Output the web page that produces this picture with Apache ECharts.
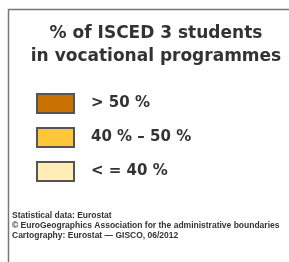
<!DOCTYPE html>
<html><head><meta charset="utf-8">
<script src="https://cdn.jsdelivr.net/npm/echarts@6/dist/echarts.min.js"></script>
<style>html,body{margin:0;padding:0;background:#fff}#c{width:289px;height:262px}</style>
</head><body><div id="c"></div>
<script>
const titleLines = ['% of ISCED 3 students', 'in vocational programmes'];
const classes = ['> 50 %', '40 % – 50 %', '< = 40 %'];
const classColors = ['#C87000', '#FFC63A', '#FFEDB5'];
const footerLines = [
  'Statistical data: Eurostat',
  '© EuroGeographics Association for the administrative boundaries',
  'Cartography: Eurostat — GISCO, 06/2012'
];
const chart = echarts.init(document.getElementById('c'), null, {renderer: 'canvas'});
chart.setOption({
  animation: false,
  title: {
    text: titleLines.join('\n'),
    left: 151, top: 17, textAlign: 'center',
    textStyle: {fontFamily: 'DejaVu Sans', fontSize: 17, fontWeight: 'bold', color: '#333', lineHeight: 23}
  },
  grid: {left: -100, top: -100, width: 1, height: 1, show: false},
  xAxis: {show: false, type: 'category', data: ['x']},
  yAxis: {show: false},
  legend: {
    orient: 'vertical', left: 31, top: 88, icon: 'rect',
    itemWidth: 37, itemHeight: 19, itemGap: 13, padding: 5,
    textStyle: {fontFamily: 'DejaVu Sans', fontSize: 15, fontWeight: 'bold', color: '#333', lineHeight: 19, padding: [0, 0, 0, 12]},
    data: classes
  },
  series: classes.map((n, i) => ({
    name: n, type: 'bar', data: [],
    itemStyle: {color: classColors[i], borderColor: '#555', borderWidth: 1}
  })),
  graphic: [
    {type: 'polyline', shape: {points: [[8.5, 262], [8.5, 9.5], [289, 9.5]]}, style: {stroke: '#777', lineWidth: 1.5, fill: null}},
    {type: 'text', left: 12, top: 211, style: {text: footerLines.join('\n'), font: 'bold 8.5px "Liberation Sans"', lineHeight: 10, fill: '#333'}}
  ]
});
</script></body></html>
